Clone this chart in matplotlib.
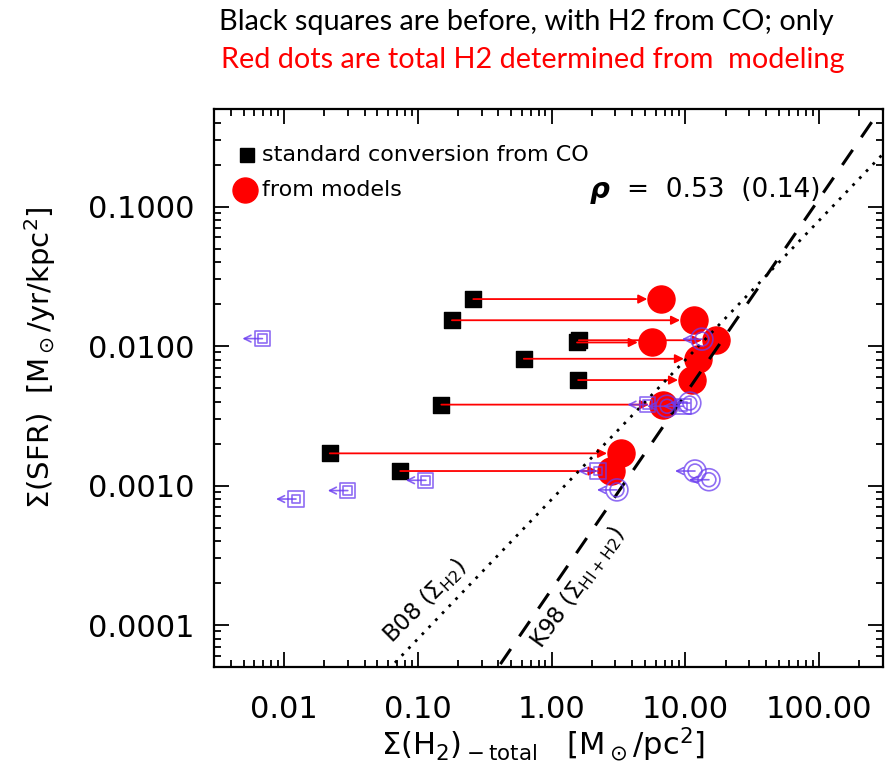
import matplotlib
matplotlib.use("Agg")
import matplotlib.pyplot as plt
from matplotlib.ticker import FixedLocator, FixedFormatter, LogLocator, NullFormatter
from matplotlib.transforms import offset_copy
import numpy as np

plt.rcParams['font.family'] = ['DejaVu Sans']
plt.rcParams['mathtext.fontset'] = 'dejavusans'

# H2 surface density with the standard CO conversion, and from the models
h2_co = [0.26, 0.18, 1.55, 1.60, 0.62, 1.58, 0.15, 0.022, 0.074]
h2_model = [6.6, 11.6, 5.6, 16.9, 12.4, 11.2, 6.8, 3.3, 2.8]
sfr = [0.0217, 0.0153, 0.0106, 0.0110, 0.0081, 0.0057, 0.0038, 0.0017, 0.00127]

# upper limits (open symbols with left arrows)
lim_sq_x = [0.0069, 0.030, 0.0123, 0.115, 2.22, 5.2, 9.6]
lim_sq_y = [0.0113, 0.00092, 0.00080, 0.00109, 0.00127, 0.0038, 0.0037]
lim_ci_x = [13.3, 7.3, 10.8, 3.08, 11.8, 15.0]
lim_ci_y = [0.0112, 0.0037, 0.0039, 0.00093, 0.00127, 0.00110]

# reference relations
b08_norm, b08_slope = 10**-2.1 / 10.0, 1.0
k98_norm, k98_slope = 1.8e-4, 1.4

xticks = [0.01, 0.1, 1, 10, 100]
xticklabels = ['0.01', '0.10', '1.00', '10.00', '100.00']
yticks = [1e-4, 1e-3, 1e-2, 1e-1]
yticklabels = ['0.0001', '0.0010', '0.0100', '0.1000']

purple = '#6a3cf0'

fig = plt.figure(figsize=(8.92, 7.74), dpi=100)
ax = fig.add_axes([214 / 892, 1 - 667 / 774, 669 / 892, 558 / 774])
ax.set_xscale('log')
ax.set_yscale('log')
ax.set_xlim(0.003, 300)
ax.set_ylim(5e-5, 0.5)

xx = np.logspace(-3, 3, 200)
ax.plot(xx, b08_norm * xx**b08_slope, color='black', ls=(0, (1, 2.5)), lw=2, zorder=4)
ax.plot(xx, k98_norm * xx**k98_slope, color='black', ls=(0, (6, 5)), lw=2.2, zorder=4)

# CO-based points, arrows to model values
ax.scatter(h2_co, sfr, marker='s', s=125, color='black', zorder=3)
for x0, x1, y in zip(h2_co, h2_model, sfr):
    ax.annotate('', xy=(x1, y), xytext=(x0, y),
                arrowprops=dict(arrowstyle='-|>', color='red', lw=1.3,
                                shrinkA=0, shrinkB=10, mutation_scale=13),
                zorder=3)
ax.scatter(h2_model, sfr, marker='o', s=380, color='red', zorder=3)

# limits
for xs, ys, mk, s_out, s_in in [(lim_sq_x, lim_sq_y, 's', 120, 40),
                                 (lim_ci_x, lim_ci_y, 'o', 250, 100)]:
    ax.scatter(xs, ys, marker=mk, s=s_out, facecolor='none', edgecolor=purple,
               lw=1.2, alpha=0.75, zorder=5)
    ax.scatter(xs, ys, marker=mk, s=s_in, facecolor='none', edgecolor=purple,
               lw=1.2, alpha=0.75, zorder=5)
    tr = offset_copy(ax.transData, fig=fig, x=-20, y=0, units='dots')
    for x, y in zip(xs, ys):
        ax.annotate('', xy=(x, y), xycoords=tr, xytext=(x, y), textcoords='data',
                    arrowprops=dict(arrowstyle='->', color=purple, lw=1.2,
                                    shrinkA=0, shrinkB=0, mutation_scale=12, alpha=0.8),
                    zorder=5)

# ticks
ax.xaxis.set_major_locator(FixedLocator(xticks))
ax.xaxis.set_major_formatter(FixedFormatter(xticklabels))
ax.yaxis.set_major_locator(FixedLocator(yticks))
ax.yaxis.set_major_formatter(FixedFormatter(yticklabels))
for axis in (ax.xaxis, ax.yaxis):
    axis.set_minor_locator(LogLocator(base=10, subs=np.arange(2, 10), numticks=20))
    axis.set_minor_formatter(NullFormatter())
ax.tick_params(which='both', direction='in', top=True, right=True, width=1.3)
ax.tick_params(which='major', length=11)
ax.tick_params(which='minor', length=5)
ax.tick_params(axis='x', which='major', labelsize=22, pad=20)
ax.tick_params(axis='y', which='major', labelsize=22, pad=14)
for sp in ax.spines.values():
    sp.set_linewidth(1.6)

ax.set_xlabel(r'$\Sigma$(H$_2$)$_{\rm -total}$   [M$_\odot$/pc$^2$]', fontsize=22)
ax.xaxis.set_label_coords(0.492, -0.105)
ax.set_ylabel(r'$\Sigma$(SFR)  [M$_\odot$/yr/kpc$^2$]', fontsize=21)
ax.yaxis.set_label_coords(-0.233, 0.554)

# legend drawn by hand
ax.plot([0.049], [0.918], marker='s', ms=10, color='black', transform=ax.transAxes, clip_on=False)
ax.text(0.072, 0.918, 'standard conversion from CO', transform=ax.transAxes,
        fontsize=16, va='center')
ax.plot([0.046], [0.855], marker='o', ms=18, color='red', transform=ax.transAxes, clip_on=False)
ax.text(0.072, 0.855, 'from models', transform=ax.transAxes, fontsize=16, va='center')
ax.text(0.562, 0.855, 'ρ', transform=ax.transAxes, fontsize=20, va='center',
        fontweight='bold', fontstyle='italic')
ax.text(0.617, 0.855, '=  0.53  (0.14)', transform=ax.transAxes, fontsize=19, va='center')

ax.text(0.315, 0.118, r'B08 ($\Sigma_{\rm H2}$)', transform=ax.transAxes, fontsize=16.5,
        rotation=45, ha='center', va='center', rotation_mode='anchor')
ax.text(0.543, 0.143, r'K98 ($\Sigma_{\rm HI+H2}$)', transform=ax.transAxes, fontsize=16.5,
        rotation=54, ha='center', va='center', rotation_mode='anchor')

fig.text(219 / 892, 1 - 22 / 774, 'Black squares are before, with H2 from CO; only',
         fontsize=20.8, color='black', va='center', ha='left', family=['Lato', 'DejaVu Sans'])
fig.text(221 / 892, 1 - 60 / 774, 'Red dots are total H2 determined from  modeling',
         fontsize=20.8, color='red', va='center', ha='left', family=['Lato', 'DejaVu Sans'])

fig.savefig('out.png', dpi=100)
